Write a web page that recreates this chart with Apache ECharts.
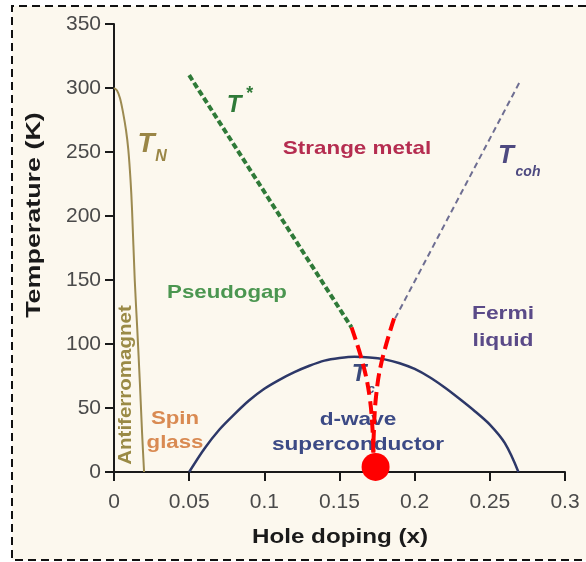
<!DOCTYPE html>
<html>
<head>
<meta charset="utf-8">
<script src="https://cdn.jsdelivr.net/npm/echarts@6/dist/echarts.min.js"></script>
<style>
  html, body { margin: 0; padding: 0; background: #ffffff; }
  #chart { width: 586px; height: 562px; }
</style>
</head>
<body>
<div id="chart"></div>
<script>
// Cuprate phase diagram: temperature vs hole doping

// Néel temperature of the antiferromagnet [x, K]
const tnLine = [[0, 300], [0.002, 298], [0.004, 292], [0.006, 281], [0.008, 267], [0.0095, 252],
  [0.011, 228], [0.012, 205], [0.0138, 150], [0.0155, 111], [0.0172, 70], [0.0187, 30], [0.02, 0]];

// Pseudogap crossover T* [x, K]
const tStarLine = [[0.05, 310], [0.158, 113]];

// Coherence temperature T_coh [x, K]
const tCohLine = [[0.187, 120], [0.27, 305]];

// Superconducting dome Tc [x, K]
const domeX = [0.05, 0.06, 0.07, 0.08, 0.09, 0.10, 0.11, 0.12, 0.13, 0.14, 0.15, 0.16,
  0.17, 0.18, 0.19, 0.20, 0.21, 0.22, 0.23, 0.24, 0.25, 0.26, 0.269];
const domeT = [0, 18, 33, 45, 56, 65, 72, 78, 83, 87, 89, 90,
  89.5, 88, 85, 80.5, 74, 66, 57, 47.5, 37, 22.5, 0];

// Extrapolated crossovers converging to the critical point
const critLeft = [[0.158, 113], [0.1657, 84], [0.170, 59], [0.1721, 31], [0.1725, 15]];
const critRight = [[0.1863, 120], [0.178, 86], [0.1743, 59], [0.1728, 30], [0.1725, 15]];
const critPoint = [[0.174, 4]];

// Axis ticks
const xTicks = { min: 0, max: 0.3, step: 0.05 };
const yTicks = { min: 0, max: 350, step: 50 };

const domeLine = domeX.map((x, i) => [x, domeT[i]]);

const chart = echarts.init(document.getElementById('chart'), null, { renderer: 'canvas' });

const FONT = '"Liberation Sans", Arial, Helvetica, sans-serif';

// Bold annotation text, stretched along its reading direction
function label(text, x, y, size, color, opts) {
  opts = opts || {};
  return {
    type: 'text', x: x, y: y, z: 1,
    rotation: opts.rotation || 0,
    scaleX: opts.stretch || 1.18,
    style: {
      text: text, fill: color,
      font: 'bold ' + size + 'px ' + FONT,
      lineHeight: opts.lineHeight,
      textAlign: 'center', textVerticalAlign: 'middle'
    }
  };
}

function italicLabel(text, x, y, size, color) {
  return {
    type: 'text', x: x, y: y, z: 1,
    style: {
      text: text, fill: color,
      font: 'italic bold ' + size + 'px ' + FONT,
      textAlign: 'center', textVerticalAlign: 'middle'
    }
  };
}

const option = {
  backgroundColor: '#ffffff',
  animation: false,
  grid: { left: 114, top: 24, width: 451, height: 448, containLabel: false },
  xAxis: {
    type: 'value',
    min: xTicks.min, max: xTicks.max, interval: xTicks.step,
    axisLine: { onZero: false, lineStyle: { color: '#1a1a1a', width: 2 } },
    axisTick: { length: 9, lineStyle: { color: '#1a1a1a', width: 2 } },
    axisLabel: { fontFamily: FONT, fontSize: 21, color: '#4a4a4a', margin: 20,
      formatter: v => String(Math.round(v * 100) / 100) },
    splitLine: { show: false }
  },
  yAxis: {
    type: 'value',
    min: yTicks.min, max: yTicks.max, interval: yTicks.step,
    axisLine: { show: true, onZero: false, lineStyle: { color: '#1a1a1a', width: 2 } },
    axisTick: { show: true, length: 9, lineStyle: { color: '#1a1a1a', width: 2 } },
    axisLabel: { fontFamily: FONT, fontSize: 21, color: '#4a4a4a', margin: 13 },
    splitLine: { show: false }
  },
  graphic: [
    // panel background and dashed frame
    { type: 'rect', z: -10, shape: { x: 12, y: 6, width: 574, height: 554 },
      style: { fill: '#fcf8ee' } },
    { type: 'polyline', z: -9, shape: { points: [[586, 6], [12, 6], [12, 560], [586, 560]] },
      style: { stroke: '#111111', lineWidth: 2, lineDash: [8, 5], fill: null } },

    // axis titles
    label('Hole doping (x)', 340, 537, 20, '#1a1a1a', { stretch: 1.21 }),
    label('Temperature (K)', 34, 215, 21, '#1a1a1a', { rotation: Math.PI / 2, stretch: 1.28 }),

    // region and crossover annotations
    italicLabel('T', 146, 144, 28, '#9a8646'),
    italicLabel('N', 161, 157, 16, '#9a8646'),
    italicLabel('T', 234, 105, 24, '#2f7a38'),
    italicLabel('*', 249, 94, 18, '#2f7a38'),
    label('Strange metal', 357, 149, 19, '#b52d50'),
    italicLabel('T', 506, 156, 26, '#4e4a80'),
    italicLabel('coh', 528, 172, 14, '#4e4a80'),
    label('Pseudogap', 227, 293, 19, '#4b9650', { stretch: 1.17 }),
    label('Antiferromagnet', 126, 385, 18, '#9a8a45', { rotation: Math.PI / 2, stretch: 1.14 }),
    label('Spin\nglass', 175, 431, 19, '#d98a52', { lineHeight: 24, stretch: 1.17 }),
    label('Fermi\nliquid', 503, 327, 19, '#5a4a88', { lineHeight: 27, stretch: 1.2 }),
    italicLabel('T', 359, 374, 24, '#3a4a7a'),
    italicLabel('c', 371, 389, 13, '#3a4a7a'),
    label('d-wave\nsuperconductor', 358, 432, 19, '#3c4a85', { lineHeight: 25, stretch: 1.19 })
  ],
  series: [
    { type: 'line', data: tnLine, smooth: 0.3, symbol: 'none', z: 3,
      lineStyle: { color: '#9c8a50', width: 2 } },
    { type: 'line', data: tStarLine, symbol: 'none', z: 3,
      lineStyle: { color: '#2f7a38', width: 4, type: [6, 3] } },
    { type: 'line', data: tCohLine, symbol: 'none', z: 3,
      lineStyle: { color: '#6e6e92', width: 2, type: [6, 4] } },
    { type: 'line', data: domeLine, smooth: 0.3, symbol: 'none', z: 3,
      lineStyle: { color: '#2d3868', width: 2.5 } },
    { type: 'line', data: critLeft, smooth: 0.4, symbol: 'none', z: 4,
      lineStyle: { color: '#ff0000', width: 4, type: [13, 6] } },
    { type: 'line', data: critRight, smooth: 0.4, symbol: 'none', z: 4,
      lineStyle: { color: '#ff0000', width: 4, type: [13, 6] } },
    { type: 'scatter', data: critPoint, symbol: 'circle', symbolSize: 28, z: 5,
      itemStyle: { color: '#ff0000', opacity: 1 } }
  ]
};

chart.setOption(option);
</script>
</body>
</html>
